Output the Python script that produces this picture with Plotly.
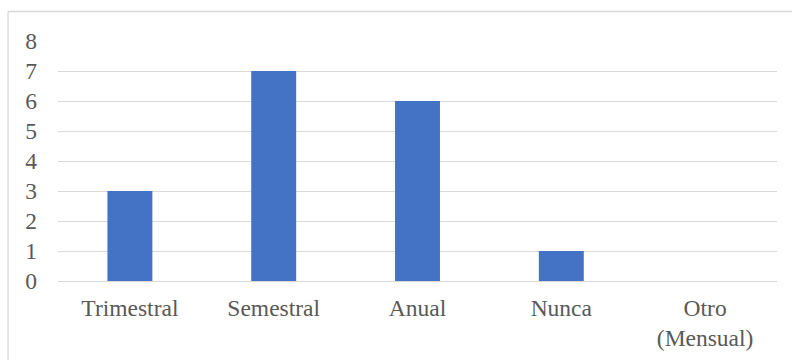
import plotly.graph_objects as go

categories = ["Trimestral", "Semestral", "Anual", "Nunca", "Otro<br>(Mensual)"]
values = [3, 7, 6, 1, 0]
y_ticks = [0, 1, 2, 3, 4, 5, 6, 7, 8]

W, H = 792, 360
L, R, T, B = 57.5, 15, 41, 79

fig = go.Figure(go.Bar(x=categories, y=values, marker_color="#4472C4",
                       marker_line_width=0))

pw = W - L - R
ph = H - T - B
bx0 = (7.5 - L) / pw
by1 = 1 + (T - 11.5) / ph

fig.update_layout(
    width=W, height=H,
    margin=dict(l=L, r=R, t=T, b=B, pad=0, autoexpand=False),
    paper_bgcolor="white", plot_bgcolor="white",
    bargap=0.6875,
    font=dict(family="Liberation Serif, Times New Roman, serif", size=23.5, color="#595959"),
    showlegend=False,
    shapes=[
        dict(type="line", xref="paper", yref="paper", x0=bx0, x1=1.2, y0=by1, y1=by1,
             line=dict(color="#d9d9d9", width=1.3)),
        dict(type="line", xref="paper", yref="paper", x0=bx0, x1=bx0, y0=-0.5, y1=by1,
             line=dict(color="#d9d9d9", width=1.3)),
    ],
)
fig.update_xaxes(showgrid=False, showline=False, ticks="", ticklabelstandoff=10,
                 automargin=False, tickfont=dict(size=23.5, color="#595959"))
fig.update_yaxes(range=[0, 8], tickvals=y_ticks, showgrid=True, gridcolor="#d9d9d9",
                 gridwidth=1.3, zeroline=True, zerolinecolor="#d9d9d9", zerolinewidth=1.3,
                 showline=False, ticks="", ticklabelstandoff=20, automargin=False,
                 tickfont=dict(size=23.5, color="#595959"))

fig.write_html("out.html")
